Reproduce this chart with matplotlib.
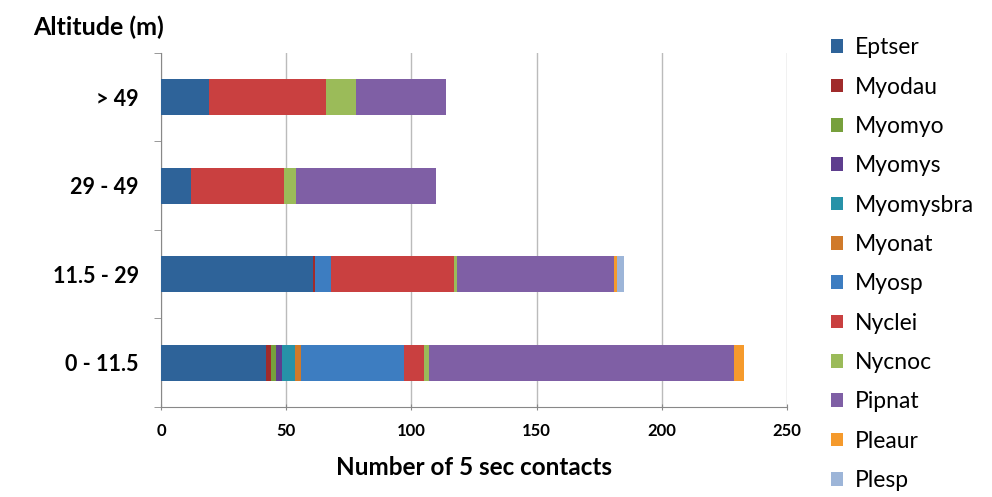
import numpy as np
import matplotlib
matplotlib.use("Agg")
import matplotlib.pyplot as plt

plt.rcParams['font.family'] = ['Lato', 'DejaVu Sans']

categories = ["0 - 11.5", "11.5 - 29", "29 - 49", "> 49"]
species = ["Eptser", "Myodau", "Myomyo", "Myomys", "Myomysbra", "Myonat",
           "Myosp", "Nyclei", "Nycnoc", "Pipnat", "Pleaur", "Plesp"]
# contacts per altitude class (same order as categories)
values = {
    "Eptser":    [42, 60.5, 12, 19],
    "Myodau":    [1.8, 1, 0, 0],
    "Myomyo":    [2, 0, 0, 0],
    "Myomys":    [2.6, 0, 0, 0],
    "Myomysbra": [5, 0, 0, 0],
    "Myonat":    [2.5, 0, 0, 0],
    "Myosp":     [41, 6.5, 0, 0],
    "Nyclei":    [8, 49, 37, 47],
    "Nycnoc":    [2, 1.2, 5, 12],
    "Pipnat":    [122, 62.5, 56, 36],
    "Pleaur":    [4, 1.5, 0, 0],
    "Plesp":     [0, 2.5, 0, 0],
}
colors = ["#2E6399", "#A02B2B", "#77A03C", "#5E3E8E", "#2792A8", "#D07A2A",
          "#3D7DC1", "#C94040", "#9BBB59", "#7F5FA5", "#F59A2C", "#9DB5D8"]

fig = plt.figure(figsize=(9.92, 4.97), dpi=100)
ax = fig.add_axes([0.1623, 0.1811, 0.6311, 0.7123])

y = np.arange(len(categories))
left = np.zeros(len(categories))
for name, col in zip(species, colors):
    v = np.array(values[name], dtype=float)
    ax.barh(y, v, left=left, height=0.41, color=col, label=name, zorder=3)
    left += v

ax.set_xlim(0, 250)
ax.set_ylim(-0.5, 3.5)
ax.set_xticks(np.arange(0, 251, 50))
ax.set_yticks(y)
ax.set_yticklabels(categories, fontsize=15.5, fontweight="bold")
ax.set_yticks(np.arange(-0.5, 3.6, 1), minor=True)
ax.tick_params(axis="y", which="major", length=0, pad=16)
ax.tick_params(axis="y", which="minor", length=5, color="#888888", direction="out")
ax.tick_params(axis="x", length=5, color="#888888", direction="inout", labelsize=12, pad=9)
for lbl in ax.get_xticklabels():
    lbl.set_fontweight("bold")

ax.grid(axis="x", color="#BBBBBB", linewidth=1, zorder=0)
for s in ["top", "right"]:
    ax.spines[s].set_visible(False)
for s in ["left", "bottom"]:
    ax.spines[s].set_color("#888888")

ax.set_xlabel("Number of 5 sec contacts", fontsize=17.5, fontweight="bold", labelpad=12)
fig.text(0.033, 0.93, "Altitude (m)", fontsize=18, fontweight="bold")

fig.legend(loc="upper left", bbox_to_anchor=(0.826, 0.948), frameon=False,
           fontsize=16.5, labelspacing=0.80, handlelength=0.55, handleheight=0.55,
           handletextpad=0.5, borderpad=0)

fig.savefig("out.png", dpi=100)
